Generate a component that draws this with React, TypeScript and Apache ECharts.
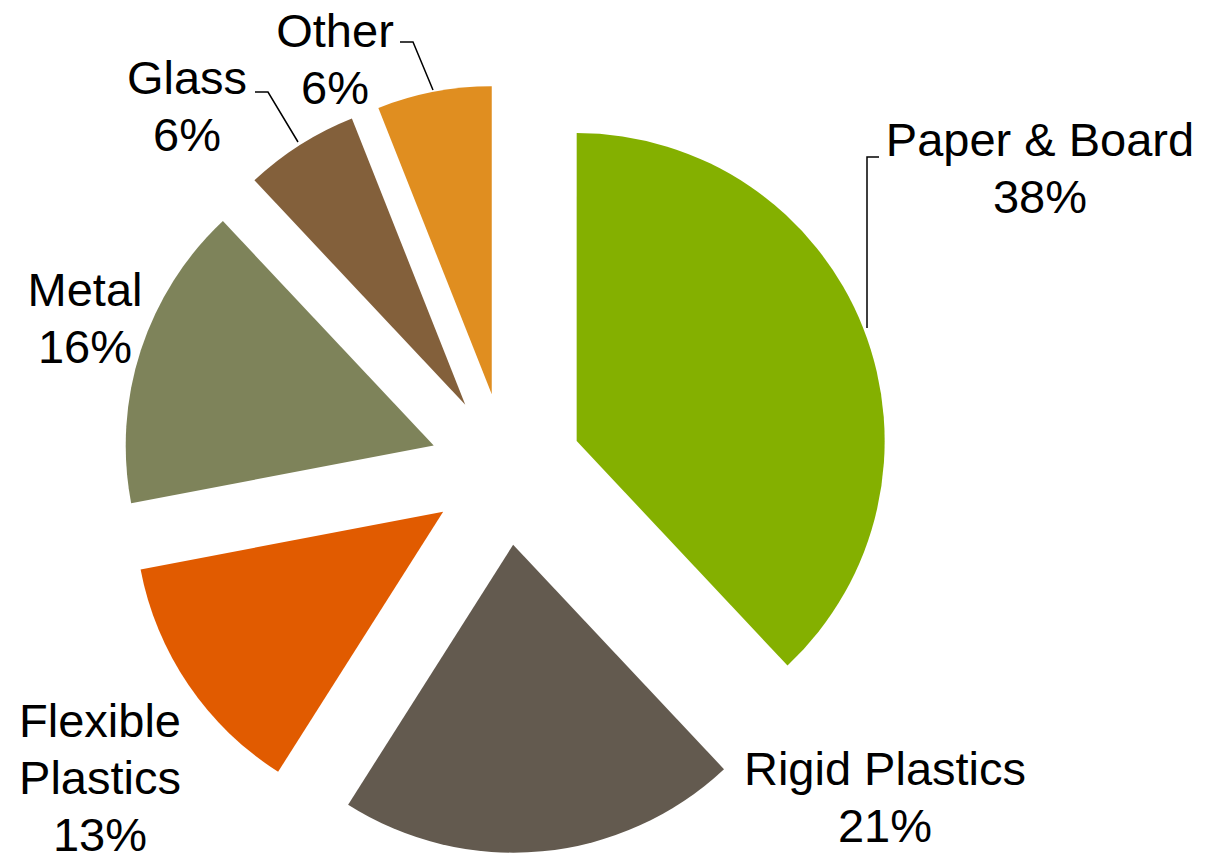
import React, { useEffect, useRef } from "react";
import * as echarts from "echarts";

const categories = ["Paper & Board", "Rigid Plastics", "Flexible Plastics", "Metal", "Glass", "Other"];
const labelNames = ["Paper & Board", "Rigid Plastics", "Flexible\nPlastics", "Metal", "Glass", "Other"];
const shares = [38, 21, 13, 16, 6, 6];
const colors = ["#84B000", "#635A4F", "#E15B00", "#7E835A", "#83603B", "#E08E20"];

// label layout (centre of each label block) and leader lines (page pixels)
const labelCenters: [number, number][] = [
  [1040, 168],
  [885, 797],
  [100, 777],
  [85, 318],
  [187, 106],
  [335, 59],
];
const leaderLines: (number[][] | null)[] = [
  [[867, 328], [867, 157], [879, 157]],
  null,
  null,
  null,
  [[298, 142], [268, 92], [255, 92]],
  [[433, 90], [413, 42], [400, 42]],
];

export default function App() {
  const ref = useRef<HTMLDivElement>(null);
  useEffect(() => {
    if (!ref.current) return;
    const chart = echarts.init(ref.current, null, { renderer: "svg" });
    const graphics: any[] = [];
    categories.forEach((_, i) => {
      const pts = leaderLines[i];
      if (pts) {
        graphics.push({
          type: "polyline",
          shape: { points: pts },
          style: { stroke: "#000000", lineWidth: 1.5, fill: null },
          silent: true,
        });
      }
      graphics.push({
        type: "text",
        x: labelCenters[i][0],
        y: labelCenters[i][1],
        style: {
          text: `${labelNames[i]}\n${shares[i]}%`,
          fontFamily: "Liberation Sans, Arial, sans-serif",
          fontSize: 47,
          lineHeight: 57,
          fill: "#000000",
          align: "center",
          verticalAlign: "middle",
        },
        silent: true,
      });
    });
    chart.setOption({
      animation: false,
      backgroundColor: "#ffffff",
      graphic: graphics,
      series: [
        {
          type: "pie",
          center: [506, 469],
          radius: [0, 308],
          startAngle: 90,
          clockwise: true,
          selectedMode: "multiple",
          selectedOffset: 76,
          emphasis: { disabled: true, scale: false },
          select: { itemStyle: { borderWidth: 0 } },
          itemStyle: { borderWidth: 0 },
          label: { show: false },
          labelLine: { show: false },
          data: categories.map((name, i) => ({
            name,
            value: shares[i],
            selected: true,
            itemStyle: { color: colors[i] },
          })),
        },
      ],
    });
    return () => chart.dispose();
  }, []);
  return (
    <div
      ref={ref}
      style={{ position: "absolute", left: 0, top: 0, width: 1210, height: 857 }}
    />
  );
}
